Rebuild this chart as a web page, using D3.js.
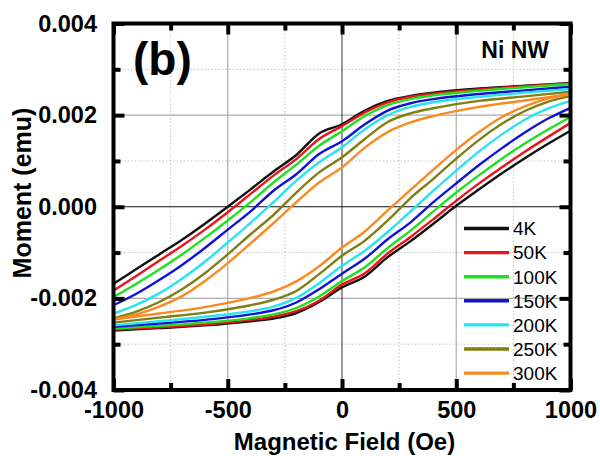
<!DOCTYPE html>
<html>
<head>
<meta charset="utf-8">
<script src="https://cdn.jsdelivr.net/npm/d3@7"></script>
<style>
  html, body { margin: 0; padding: 0; background: #fff; }
  svg { display: block; font-family: "Liberation Sans", Arial, sans-serif; }
</style>
</head>
<body>
<svg id="chart" width="600" height="456"></svg>
<script>
// Field sweeps (Oe): descending branch then ascending branch
const fieldDown = [1000, 800, 600, 400, 300, 200, 100, 0, -100, -200, -300, -400, -500, -600, -700, -800, -900, -1000];
const fieldUp   = [-1000, -800, -600, -400, -300, -200, -100, 0, 100, 200, 300, 400, 500, 600, 700, 800, 900, 1000];

const temperatures = ["4K", "50K", "100K", "150K", "200K", "250K", "300K"];
const seriesColors = ["#111111", "#e8161c", "#1fe01f", "#1212d6", "#2ae3f0", "#7f7f12", "#fa8b22"];

// Moment (emu) on the descending branch, one list per temperature
const down4K   = [0.00270, 0.00264, 0.00258, 0.00249, 0.00242, 0.00231, 0.00210, 0.00180, 0.00160, 0.00113, 0.00077, 0.00038, 0.00000, -0.00037, -0.00072, -0.00104, -0.00136, -0.00168];
const down50K  = [0.00269, 0.00263, 0.00256, 0.00247, 0.00240, 0.00228, 0.00206, 0.00176, 0.00148, 0.00104, 0.00068, 0.00028, -0.00012, -0.00050, -0.00085, -0.00118, -0.00151, -0.00183];
const down100K = [0.00268, 0.00261, 0.00253, 0.00243, 0.00235, 0.00222, 0.00198, 0.00165, 0.00133, 0.00092, 0.00053, 0.00010, -0.00030, -0.00068, -0.00104, -0.00137, -0.00168, -0.00197];
const down150K = [0.00262, 0.00254, 0.00246, 0.00235, 0.00226, 0.00210, 0.00180, 0.00143, 0.00115, 0.00071, 0.00035, -0.00010, -0.00050, -0.00090, -0.00127, -0.00160, -0.00190, -0.00215];
const down200K = [0.00257, 0.00249, 0.00240, 0.00228, 0.00218, 0.00200, 0.00169, 0.00130, 0.00097, 0.00057, 0.00010, -0.00035, -0.00078, -0.00120, -0.00157, -0.00189, -0.00214, -0.00233];
const down250K = [0.00251, 0.00241, 0.00231, 0.00215, 0.00204, 0.00185, 0.00148, 0.00108, 0.00075, 0.00031, -0.00018, -0.00060, -0.00104, -0.00145, -0.00180, -0.00208, -0.00229, -0.00244];
const down300K = [0.00246, 0.00232, 0.00218, 0.00198, 0.00184, 0.00163, 0.00129, 0.00086, 0.00053, 0.00010, -0.00036, -0.00080, -0.00123, -0.00162, -0.00195, -0.00218, -0.00235, -0.00246];

// Moment (emu) on the ascending branch
const up4K   = [-0.00270, -0.00265, -0.00259, -0.00250, -0.00244, -0.00232, -0.00208, -0.00176, -0.00152, -0.00110, -0.00075, -0.00037, 0.00002, 0.00038, 0.00073, 0.00106, 0.00137, 0.00166];
const up50K  = [-0.00268, -0.00263, -0.00257, -0.00247, -0.00240, -0.00228, -0.00205, -0.00170, -0.00145, -0.00102, -0.00066, -0.00027, 0.00013, 0.00051, 0.00086, 0.00120, 0.00152, 0.00183];
const up100K = [-0.00266, -0.00260, -0.00253, -0.00243, -0.00235, -0.00221, -0.00196, -0.00162, -0.00132, -0.00090, -0.00052, -0.00010, 0.00031, 0.00069, 0.00105, 0.00138, 0.00168, 0.00196];
const up150K = [-0.00262, -0.00255, -0.00247, -0.00235, -0.00226, -0.00209, -0.00180, -0.00146, -0.00113, -0.00071, -0.00034, 0.00010, 0.00051, 0.00091, 0.00128, 0.00162, 0.00192, 0.00216];
const up200K = [-0.00259, -0.00250, -0.00240, -0.00228, -0.00218, -0.00199, -0.00167, -0.00129, -0.00096, -0.00055, -0.00010, 0.00035, 0.00079, 0.00121, 0.00158, 0.00190, 0.00214, 0.00231];
const up250K = [-0.00253, -0.00242, -0.00231, -0.00215, -0.00203, -0.00184, -0.00147, -0.00107, -0.00074, -0.00030, 0.00019, 0.00061, 0.00105, 0.00146, 0.00181, 0.00209, 0.00229, 0.00242];
const up300K = [-0.00246, -0.00233, -0.00219, -0.00199, -0.00185, -0.00163, -0.00130, -0.00089, -0.00054, -0.00008, 0.00037, 0.00081, 0.00124, 0.00163, 0.00196, 0.00219, 0.00236, 0.00246];

const downBranches = [down4K, down50K, down100K, down150K, down200K, down250K, down300K];
const upBranches   = [up4K, up50K, up100K, up150K, up200K, up250K, up300K];

// Axis ticks
const xMajor = [-1000, -500, 0, 500, 1000];
const xTickLabels = ["-1000", "-500", "0", "500", "1000"];
const xMinor = [-750, -250, 250, 750];
const yMajor = [-0.004, -0.002, 0, 0.002, 0.004];
const yTickLabels = ["-0.004", "-0.002", "0.000", "0.002", "0.004"];
const yMinor = [-0.003, -0.001, 0.001, 0.003];

const svg = d3.select("#chart");
const plotLeft = 113.5, plotRight = 570.5, plotTop = 23.5, plotBottom = 390;

const x = d3.scaleLinear().domain([-1000, 1000]).range([plotLeft, plotRight]);
const y = d3.scaleLinear().domain([-0.004, 0.004]).range([plotBottom, plotTop]);

// Grid
const grid = svg.append("g");
grid.selectAll("line.gx").data(xMinor).join("line")
  .attr("x1", d => x(d)).attr("x2", d => x(d)).attr("y1", plotTop).attr("y2", plotBottom)
  .attr("stroke", "#c4c4c4").attr("stroke-width", 1).attr("stroke-dasharray", "1.5,2");
grid.selectAll("line.gy").data(yMinor).join("line")
  .attr("y1", d => y(d)).attr("y2", d => y(d)).attr("x1", plotLeft).attr("x2", plotRight)
  .attr("stroke", "#c4c4c4").attr("stroke-width", 1).attr("stroke-dasharray", "1.5,2");
grid.selectAll("line.mx").data([-500, 500]).join("line")
  .attr("x1", d => x(d)).attr("x2", d => x(d)).attr("y1", plotTop).attr("y2", plotBottom)
  .attr("stroke", "#ababab").attr("stroke-width", 1.2);
grid.selectAll("line.my").data([-0.002, 0.002]).join("line")
  .attr("y1", d => y(d)).attr("y2", d => y(d)).attr("x1", plotLeft).attr("x2", plotRight)
  .attr("stroke", "#ababab").attr("stroke-width", 1.2);
// Zero lines
grid.append("line").attr("x1", x(0)).attr("x2", x(0)).attr("y1", plotTop).attr("y2", plotBottom)
  .attr("stroke", "#333").attr("stroke-width", 1);
grid.append("line").attr("y1", y(0)).attr("y2", y(0)).attr("x1", plotLeft).attr("x2", plotRight)
  .attr("stroke", "#111").attr("stroke-width", 1);

// Hysteresis loops
const line = d3.line().x(d => x(d[0])).y(d => y(d[1])).curve(d3.curveMonotoneX);
const loops = svg.append("g");
temperatures.forEach((t, i) => {
  const downPts = fieldDown.map((h, k) => [h, downBranches[i][k]]).reverse();
  const upPts = fieldUp.map((h, k) => [h, upBranches[i][k]]);
  [downPts, upPts].forEach(pts => {
    loops.append("path").attr("d", line(pts))
      .attr("fill", "none").attr("stroke", seriesColors[i])
      .attr("stroke-width", 2.4).attr("stroke-linejoin", "round");
  });
});

// Axes with inward ticks
const fontFamily = '"Liberation Sans", Arial, sans-serif';
function styleAxis(g, width) {
  g.select(".domain").remove();
  g.selectAll(".tick line").attr("stroke", "#000").attr("stroke-width", width);
}
const bAxis = svg.append("g").attr("transform", `translate(0,${plotBottom})`)
  .call(d3.axisBottom(x).tickValues(xMajor).tickSize(-11).tickPadding(11)
    .tickFormat((d, i) => xTickLabels[i]));
styleAxis(bAxis, 4);
bAxis.selectAll("text").attr("font-size", 23.5).attr("font-weight", "bold")
  .attr("font-family", fontFamily).attr("fill", "#000");
svg.append("g").attr("transform", `translate(0,${plotBottom})`)
  .call(d3.axisBottom(x).tickValues(xMinor).tickSize(-7).tickFormat(""))
  .call(g => styleAxis(g, 4));
svg.append("g").attr("transform", `translate(0,${plotTop})`)
  .call(d3.axisTop(x).tickValues(xMajor).tickSize(-11).tickFormat(""))
  .call(g => styleAxis(g, 4));
svg.append("g").attr("transform", `translate(0,${plotTop})`)
  .call(d3.axisTop(x).tickValues(xMinor).tickSize(-7).tickFormat(""))
  .call(g => styleAxis(g, 4));

const lAxis = svg.append("g").attr("transform", `translate(${plotLeft},0)`)
  .call(d3.axisLeft(y).tickValues(yMajor).tickSize(-11).tickPadding(16.5)
    .tickFormat((d, i) => yTickLabels[i]));
styleAxis(lAxis, 4);
lAxis.selectAll("text").attr("font-size", 23.5).attr("font-weight", "bold")
  .attr("font-family", fontFamily).attr("fill", "#000");
svg.append("g").attr("transform", `translate(${plotLeft},0)`)
  .call(d3.axisLeft(y).tickValues(yMinor).tickSize(-7).tickFormat(""))
  .call(g => styleAxis(g, 4));
svg.append("g").attr("transform", `translate(${plotRight},0)`)
  .call(d3.axisRight(y).tickValues(yMajor).tickSize(-11).tickFormat(""))
  .call(g => styleAxis(g, 4));
svg.append("g").attr("transform", `translate(${plotRight},0)`)
  .call(d3.axisRight(y).tickValues(yMinor).tickSize(-7).tickFormat(""))
  .call(g => styleAxis(g, 4));

// Frame
svg.append("rect").attr("x", plotLeft).attr("y", plotTop)
  .attr("width", plotRight - plotLeft).attr("height", plotBottom - plotTop)
  .attr("fill", "none").attr("stroke", "#000").attr("stroke-width", 4);

// Axis titles
svg.append("text").attr("x", 344.5).attr("y", 450).attr("text-anchor", "middle")
  .attr("font-size", 24).attr("font-weight", "bold").text("Magnetic Field (Oe)");
svg.append("text").attr("transform", "translate(31,193) rotate(-90)")
  .attr("text-anchor", "middle").attr("font-size", 25).attr("font-weight", "bold")
  .text("Moment (emu)");

// Panel label and sample name
svg.append("text").attr("x", 133).attr("y", 75).attr("font-size", 46)
  .attr("font-weight", "bold").text("(b)");
svg.append("text").attr("x", 549).attr("y", 58).attr("text-anchor", "end")
  .attr("font-size", 23).attr("font-weight", "bold").text("Ni NW");

// Legend
const legend = svg.append("g");
temperatures.forEach((t, i) => {
  const ly = 228.5 + i * 24.1;
  legend.append("line").attr("x1", 464).attr("x2", 509).attr("y1", ly).attr("y2", ly)
    .attr("stroke", seriesColors[i]).attr("stroke-width", 3.4);
  legend.append("text").attr("x", 513).attr("y", ly).attr("dy", "0.36em")
    .attr("font-size", 19).attr("fill", "#000").text(t);
});
</script>
</body>
</html>
